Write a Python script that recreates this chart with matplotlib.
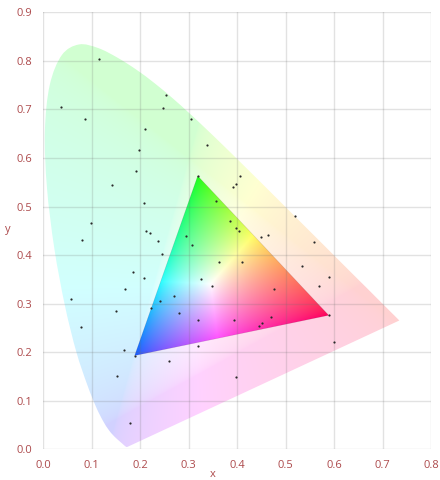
import numpy as np
import matplotlib
matplotlib.use("Agg")
import matplotlib.pyplot as plt
from matplotlib.path import Path
from matplotlib.patches import PathPatch

# CIE 1931 2-degree spectral locus, 380-700 nm in 5 nm steps
locus_x = [0.1741, 0.1740, 0.1738, 0.1736, 0.1733, 0.1730, 0.1726, 0.1721,
           0.1714, 0.1703, 0.1689, 0.1669, 0.1644, 0.1611, 0.1566, 0.1510,
           0.1440, 0.1355, 0.1241, 0.1096, 0.0913, 0.0687, 0.0454, 0.0235,
           0.0082, 0.0039, 0.0139, 0.0389, 0.0743, 0.1142, 0.1547, 0.1929,
           0.2296, 0.2658, 0.3016, 0.3373, 0.3731, 0.4087, 0.4441, 0.4788,
           0.5125, 0.5448, 0.5752, 0.6029, 0.6270, 0.6482, 0.6658, 0.6801,
           0.6915, 0.7006, 0.7079, 0.7140, 0.7190, 0.7230, 0.7260, 0.7283,
           0.7300, 0.7311, 0.7320, 0.7327, 0.7334, 0.7340, 0.7344, 0.7346,
           0.7347]
locus_y = [0.0050, 0.0050, 0.0049, 0.0049, 0.0048, 0.0048, 0.0048, 0.0048,
           0.0051, 0.0058, 0.0069, 0.0086, 0.0109, 0.0138, 0.0177, 0.0227,
           0.0297, 0.0399, 0.0578, 0.0868, 0.1327, 0.2007, 0.2950, 0.4127,
           0.5384, 0.6548, 0.7502, 0.8120, 0.8338, 0.8262, 0.8059, 0.7816,
           0.7543, 0.7243, 0.6923, 0.6589, 0.6245, 0.5896, 0.5547, 0.5202,
           0.4866, 0.4544, 0.4242, 0.3965, 0.3725, 0.3514, 0.3340, 0.3197,
           0.3083, 0.2993, 0.2920, 0.2859, 0.2809, 0.2770, 0.2740, 0.2717,
           0.2700, 0.2689, 0.2680, 0.2673, 0.2666, 0.2660, 0.2656, 0.2654,
           0.2653]

# Gamut triangle primaries (green, red, blue) and its white point
gamut_x = [0.319, 0.589, 0.189]
gamut_y = [0.563, 0.276, 0.193]
white_xy = (0.345, 0.34)

# Measured chromaticity samples
sample_x = [0.116, 0.037, 0.087, 0.253, 0.248, 0.210, 0.197, 0.305, 0.339,
            0.407, 0.397, 0.392, 0.357, 0.520, 0.385, 0.398, 0.404, 0.192,
            0.142, 0.208, 0.098, 0.081, 0.212, 0.221, 0.237, 0.294, 0.245,
            0.185, 0.209, 0.170, 0.307, 0.449, 0.464, 0.558, 0.362, 0.410,
            0.535, 0.589, 0.325, 0.348, 0.476, 0.570, 0.319, 0.393, 0.471,
            0.451, 0.445, 0.058, 0.271, 0.241, 0.222, 0.150, 0.280, 0.078,
            0.166, 0.319, 0.260, 0.153, 0.179, 0.601, 0.398]
sample_y = [0.804, 0.705, 0.680, 0.729, 0.703, 0.659, 0.616, 0.681, 0.626,
            0.563, 0.546, 0.540, 0.512, 0.480, 0.471, 0.456, 0.450, 0.574,
            0.545, 0.507, 0.467, 0.432, 0.450, 0.446, 0.430, 0.439, 0.402,
            0.365, 0.353, 0.331, 0.421, 0.437, 0.441, 0.427, 0.386, 0.386,
            0.377, 0.355, 0.350, 0.336, 0.330, 0.336, 0.266, 0.266, 0.272,
            0.261, 0.254, 0.309, 0.316, 0.305, 0.290, 0.285, 0.281, 0.252,
            0.204, 0.212, 0.182, 0.151, 0.054, 0.221, 0.148]

x_ticks = [0.0, 0.1, 0.2, 0.3, 0.4, 0.5, 0.6, 0.7, 0.8]
y_ticks = [0.0, 0.1, 0.2, 0.3, 0.4, 0.5, 0.6, 0.7, 0.8, 0.9]

XMAX, YMAX = 0.8, 0.9
label_color = "#ad4a4c"
plt.rcParams["font.family"] = ["Open Sans", "DejaVu Sans"]

fig = plt.figure(figsize=(4.4, 4.8), dpi=100)
ax = fig.add_axes([43 / 440, (480 - 449.3) / 480, 388 / 440, 437 / 480])

# pixel grid over the chromaticity plane
nx, ny = 800, 900
gx, gy = np.meshgrid(np.linspace(0, XMAX, nx), np.linspace(0, YMAX, ny))


def srgb_encode(c):
    c = np.clip(c, 0, 1)
    return np.where(c <= 0.0031308, 12.92 * c, 1.055 * c ** (1 / 2.4) - 0.055)


def smooth_closed_path(px, py):
    """Closed Bezier path passing through the given vertices (Catmull-Rom)."""
    pts = np.column_stack([px, py])
    n = len(pts)
    verts = [pts[0]]
    codes = [Path.MOVETO]
    for i in range(n):
        p0, p1 = pts[(i - 1) % n], pts[i]
        p2, p3 = pts[(i + 1) % n], pts[(i + 2) % n]
        # keep the straight purple line between the spectrum ends
        if i == n - 1:
            verts += [p1, p2, p2]
        else:
            c1 = p1 + (p2 - p0) / 6
            c2 = p2 - (p3 - p1) / 6
            if i == 0:
                c1 = p1 + (p2 - p1) / 3
            if i == n - 2:
                c2 = p2 - (p2 - p1) / 3
            verts += [c1, c2, p2]
        codes += [Path.CURVE4] * 3
    verts.append(pts[0])
    codes.append(Path.CLOSEPOLY)
    return Path(np.array(verts), codes)


# chromaticity -> normalised sRGB colour, washed towards white
M = np.array([[3.2406, -1.5372, -0.4986],
              [-0.9689, 1.8758, 0.0415],
              [0.0557, -0.2040, 1.0570]])
yy = np.maximum(gy, 1e-4)
XYZ = np.stack([gx / yy, np.ones_like(gx), (1 - gx - gy) / yy], axis=-1)
lin = np.clip(XYZ @ M.T, 0, None)
lin = lin / np.maximum(lin.max(axis=-1, keepdims=True), 1e-9)
spec = srgb_encode(lin)
pastel = 1 - 0.18 * (1 - spec)

locus_patch = PathPatch(smooth_closed_path(locus_x, locus_y),
                        facecolor="none", edgecolor="none")
ax.add_patch(locus_patch)
ax.imshow(pastel, extent=[0, XMAX, 0, YMAX], origin="lower", aspect="auto",
          interpolation="bilinear", clip_path=locus_patch, zorder=1)

# gamut triangle: barycentric mix of the three primaries
(gxv, rxv, bxv), (gyv, ryv, byv) = gamut_x, gamut_y


def bary(px, py):
    det = (ryv - byv) * (gxv - bxv) + (bxv - rxv) * (gyv - byv)
    wg = ((ryv - byv) * (px - bxv) + (bxv - rxv) * (py - byv)) / det
    wr = ((byv - gyv) * (px - bxv) + (gxv - bxv) * (py - byv)) / det
    return wg, wr, 1 - wg - wr


# linear display colours of the red, green and blue primaries (columns)
prim = np.array([[1.00, 0.03, 0.02],
                 [0.00, 1.00, 0.17],
                 [0.17, 0.02, 1.00]])
wg0, wr0, wb0 = bary(*white_xy)
amt0 = np.linalg.solve(prim, np.ones(3))
scale = np.array([wr0, wg0, wb0]) / amt0

wg, wr, wb = bary(gx, gy)
amt = np.stack([np.clip(wr, 0, None), np.clip(wg, 0, None),
                np.clip(wb, 0, None)], axis=-1) / scale
tri_lin = amt @ prim.T
tri_lin = tri_lin / np.maximum(tri_lin.max(axis=-1, keepdims=True), 1e-9)
tri_rgb = srgb_encode(tri_lin ** 1.25)

tri_path = Path(np.column_stack([gamut_x + [gamut_x[0]], gamut_y + [gamut_y[0]]]),
                closed=True)
tri_clip = PathPatch(tri_path, facecolor="none", edgecolor="none")
ax.add_patch(tri_clip)
ax.imshow(tri_rgb, extent=[0, XMAX, 0, YMAX], origin="lower", aspect="auto",
          interpolation="bilinear", clip_path=tri_clip, zorder=2)
ax.add_patch(PathPatch(tri_path, facecolor="none", edgecolor=(0.3, 0.1, 0.2, 0.18),
                       linewidth=0.4, zorder=3))

ax.scatter(sample_x + gamut_x, sample_y + gamut_y, s=2.5, color="#2a2a2a",
           linewidths=0, zorder=5)

ax.set_xlim(0, XMAX)
ax.set_ylim(0, YMAX)
ax.set_xticks(x_ticks)
ax.set_yticks(y_ticks)
ax.set_xticklabels([f"{v:.1f}" for v in x_ticks])
ax.set_yticklabels([f"{v:.1f}" for v in y_ticks])
ax.tick_params(length=0, labelsize=8, labelcolor=label_color, pad=8)
ax.grid(True, color="#6e6e6e", alpha=0.2, linewidth=1.0, zorder=4)
ax.set_axisbelow(False)
for s in ax.spines.values():
    s.set_visible(False)

ax.set_xlabel("x", fontsize=8, color=label_color)
ax.set_ylabel("y", fontsize=8, color=label_color, rotation=0)
ax.xaxis.set_label_coords(0.438, -0.045)
ax.yaxis.set_label_coords(-0.09, 0.49)

fig.savefig("out.png", dpi=100, facecolor="white")
